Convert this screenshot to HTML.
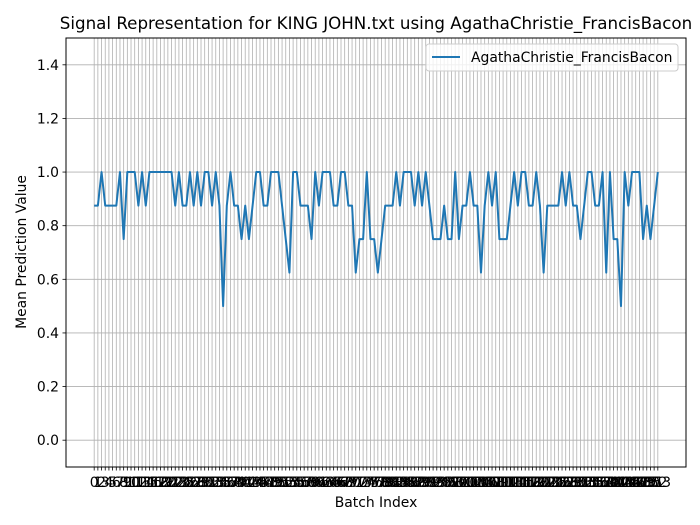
<!DOCTYPE html>
<html><head><meta charset="utf-8"><style>body{margin:0;background:#fff}svg{display:block;font-family:"DejaVu Sans","Liberation Sans",sans-serif}</style></head>
<body>
<svg id="chart" width="700" height="525" xmlns="http://www.w3.org/2000/svg">
<rect width="700" height="525" fill="#fff"/>
<g id="grid"></g>
<g id="ticks"></g>
<path id="line" fill="none" stroke="#1f77b4" stroke-width="2" stroke-linejoin="round"/>
<rect x="66" y="38" width="620" height="429" fill="none" stroke="#000" stroke-width="1"/>
<text x="376" y="29" font-size="16.7" text-anchor="middle">Signal Representation for KING JOHN.txt using AgathaChristie_FrancisBacon</text>
<text x="376" y="507" font-size="13.9" text-anchor="middle">Batch Index</text>
<text transform="translate(26,252) rotate(-90)" font-size="13.9" text-anchor="middle">Mean Prediction Value</text>
<g>
<rect x="426" y="44" width="252" height="27" rx="3" fill="#fff" fill-opacity="0.8" stroke="#ccc"/>
<line x1="432" y1="57" x2="460" y2="57" stroke="#1f77b4" stroke-width="2"/>
<text x="471" y="62" font-size="13.9">AgathaChristie_FrancisBacon</text>
</g>
</svg>
<script>
const values=[0.875,0.875,1,0.875,0.875,0.875,0.875,1,0.75,1,1,1,0.875,1,0.875,1,1,1,1,1,1,1,0.875,1,0.875,0.875,1,0.875,1,0.875,1,1,0.875,1,0.875,0.5,0.875,1,0.875,0.875,0.75,0.875,0.75,0.875,1,1,0.875,0.875,1,1,1,0.875,0.75,0.625,1,1,0.875,0.875,0.875,0.75,1,0.875,1,1,1,0.875,0.875,1,1,0.875,0.875,0.625,0.75,0.75,1,0.75,0.75,0.625,0.75,0.875,0.875,0.875,1,0.875,1,1,1,0.875,1,0.875,1,0.875,0.75,0.75,0.75,0.875,0.75,0.75,1,0.75,0.875,0.875,1,0.875,0.875,0.625,0.875,1,0.875,1,0.75,0.75,0.75,0.875,1,0.875,1,1,0.875,0.875,1,0.875,0.625,0.875,0.875,0.875,0.875,1,0.875,1,0.875,0.875,0.75,0.875,1,1,0.875,0.875,1,0.625,1,0.75,0.75,0.5,1,0.875,1,1,1,0.75,0.875,0.75,0.875,1];
const yTicks=[0,0.2,0.4,0.6,0.8,1.0,1.2,1.4];
const NS="http://www.w3.org/2000/svg";
const n=values.length;
const xmin=-(n-1)*0.05,xmax=(n-1)*1.05;
function xs(i){return 66+(i-xmin)/(xmax-xmin)*620;}
function ys(v){return 467-(v+0.1)/1.6*429;}
const grid=document.getElementById('grid'),ticks=document.getElementById('ticks');
function mk(t,a,p){const e=document.createElementNS(NS,t);for(const k in a)e.setAttribute(k,a[k]);p.appendChild(e);return e;}
for(let i=0;i<n;i++){
 const x=xs(i);
 const g=mk('line',{x1:x,x2:x,y1:38,y2:467,stroke:'#b0b0b0','stroke-width':0.8},grid);
 
 
 mk('line',{x1:x,x2:x,y1:467,y2:470.5,stroke:'#000','stroke-width':0.8},ticks);
 const t=mk('text',{x:x,y:487,'font-size':13.9,'text-anchor':'middle'},ticks);
 
 
 t.textContent=i;
}
yTicks.forEach(v=>{
 const y=ys(v);
 const g=mk('line',{x1:66,x2:686,y1:y,y2:y,stroke:'#b0b0b0','stroke-width':0.8},grid);
 
 
 mk('line',{x1:62.5,x2:66,y1:y,y2:y,stroke:'#000','stroke-width':0.8},ticks);
 const t=mk('text',{x:59,y:y+5,'font-size':13.9,'text-anchor':'end'},ticks);
 
 
 t.textContent=v.toFixed(1);
});
document.getElementById('line').setAttribute('d',values.map((v,i)=>(i?'L':'M')+xs(i).toFixed(2)+','+ys(v).toFixed(2)).join(''));
</script>
</body></html>
